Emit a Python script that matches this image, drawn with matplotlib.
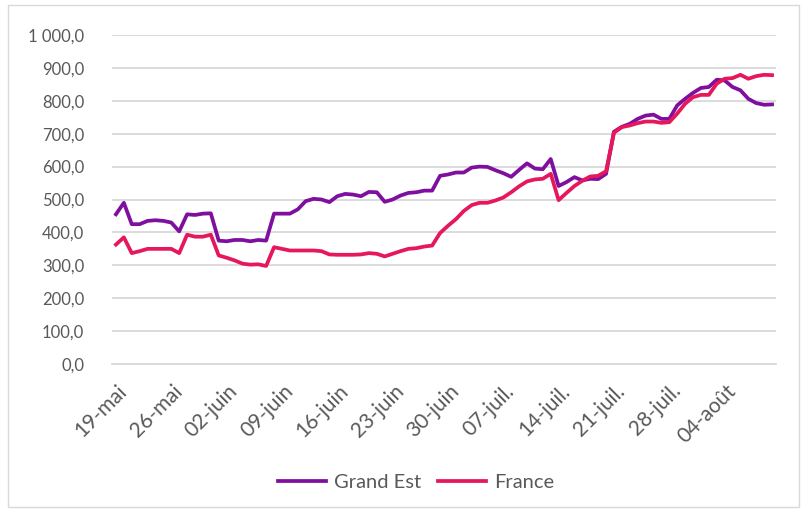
import matplotlib
matplotlib.use("Agg")
import matplotlib.pyplot as plt
import matplotlib.transforms as mtransforms
from matplotlib.patches import Rectangle

plt.rcParams["font.family"] = ["Lato", "DejaVu Sans"]

# daily values, 19 May -> 10 Aug
grand_est = [455, 490, 425, 425, 435, 437, 435, 430, 403, 455, 453, 457, 458,
             375, 373, 377, 377, 373, 377, 375,
             457, 457, 457, 470, 495, 502, 500, 492, 510, 517,
             515, 510, 523, 522, 493, 500, 512, 520, 522, 527,
             527, 572, 576, 582, 582, 597, 600, 599, 589, 580,
             569, 590, 610, 594, 592, 623, 541, 553, 568, 558,
             563, 562, 578, 706, 721, 730, 745, 755, 758, 745,
             745, 786, 806, 824, 839, 842, 864, 862, 842, 832,
             806, 793, 788, 789]
france = [363, 385, 337, 343, 350, 350, 350, 350, 337, 393, 387, 387, 393,
          330, 323, 315, 305, 302, 303, 298,
          355, 350, 345, 345, 345, 345, 343, 333, 332, 332,
          332, 333, 337, 335, 327, 335, 343, 350, 352, 357,
          360, 398, 420, 440, 465, 483, 490, 490, 497, 506,
          522, 540, 555, 561, 563, 578, 498, 520, 541, 557,
          570, 572, 586, 703, 720, 725, 732, 737, 737, 733,
          735, 761, 791, 811, 818, 818, 852, 867, 869, 879,
          867, 875, 879, 878]

x_labels = ["19-mai", "26-mai", "02-juin", "09-juin", "16-juin", "23-juin",
            "30-juin", "07-juil.", "14-juil.", "21-juil.", "28-juil.", "04-août"]
y_ticks = [0, 100, 200, 300, 400, 500, 600, 700, 800, 900, 1000]
y_labels = ["0,0", "100,0", "200,0", "300,0", "400,0", "500,0", "600,0",
            "700,0", "800,0", "900,0", "1 000,0"]

PURPLE = "#7F0F9E"
RED = "#E6175A"
GREY_TXT = "#595959"
GRID = "#D9D9D9"

fig = plt.figure(figsize=(8.04, 5.11), dpi=100)
fig.patches.append(Rectangle((8 / 804, 1 - 507 / 511), 791 / 804, 502 / 511,
                             transform=fig.transFigure, fill=False,
                             edgecolor=GRID, linewidth=1))
ax = fig.add_axes([112 / 804, 1 - 364 / 511, 664 / 804, 329 / 511])

x = list(range(len(grand_est)))
ax.plot(x, grand_est, color=PURPLE, linewidth=2.7, label="Grand Est",
        solid_joinstyle="round")
ax.plot(x, france, color=RED, linewidth=2.7, label="France",
        solid_joinstyle="round")

ax.set_xlim(-0.5, len(x) - 0.5)
ax.set_ylim(0, 1000)
ax.set_yticks(y_ticks)
ax.set_yticklabels(y_labels, fontsize=12, color=GREY_TXT)
ax.tick_params(axis="y", length=0, pad=20)
ax.yaxis.grid(True, color=GRID, linewidth=1.3)
ax.set_axisbelow(True)
for s in ["top", "right", "left"]:
    ax.spines[s].set_visible(False)
ax.spines["bottom"].set_color(GRID)
ax.spines["bottom"].set_linewidth(1.3)

ax.set_xticks(range(0, 7 * len(x_labels), 7))
ax.set_xticklabels(x_labels, fontsize=15, color=GREY_TXT, rotation=45,
                   ha="right", va="top", rotation_mode="anchor")
ax.tick_params(axis="x", length=0, pad=12)
offset = mtransforms.ScaledTranslation(0.01, 0, fig.dpi_scale_trans)
for lab in ax.get_xticklabels():
    lab.set_transform(lab.get_transform() + offset)

fig.legend(loc="center", bbox_to_anchor=(416 / 804, 1 - 482 / 511), ncol=2,
           frameon=False, fontsize=14.5, handlelength=2.4, columnspacing=0.8,
           handletextpad=0.4, labelcolor=GREY_TXT)

fig.savefig("out.png", dpi=100)
